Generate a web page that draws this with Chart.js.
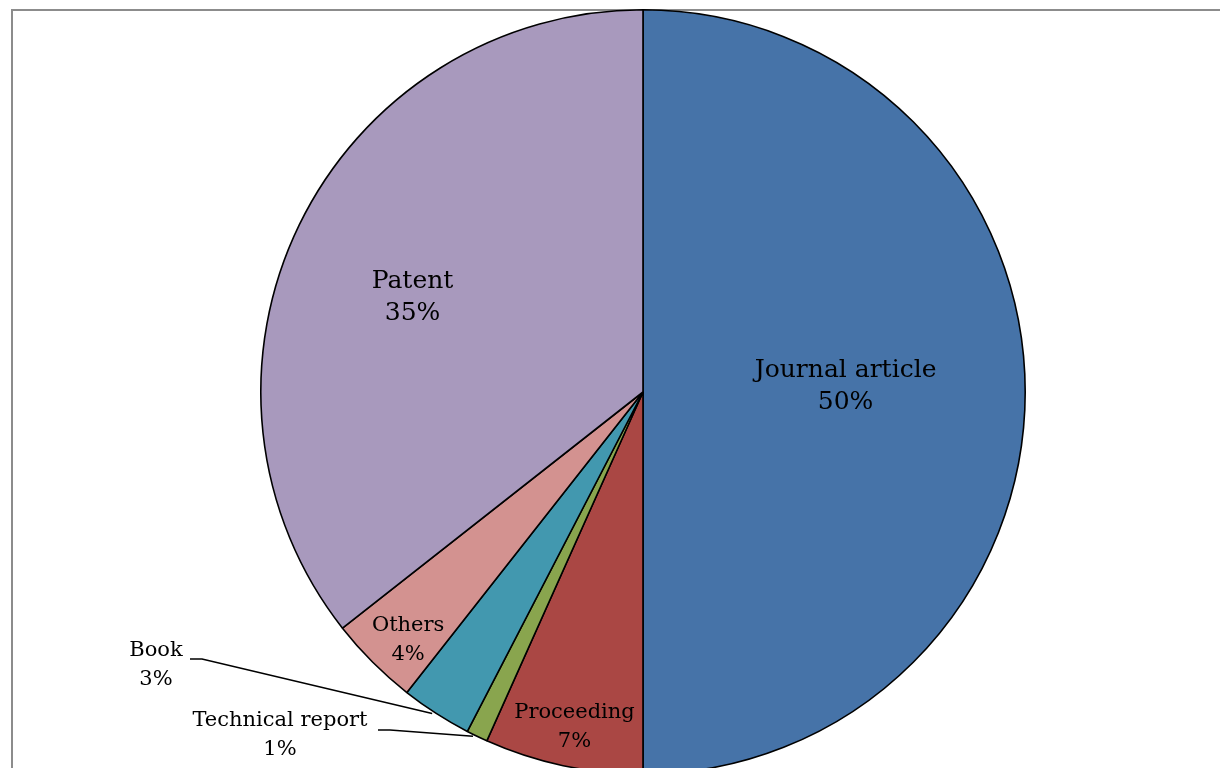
<!DOCTYPE html>
<html>
<head>
<meta charset="utf-8">
<script src="https://cdn.jsdelivr.net/npm/chart.js@4"></script>
<style>
  html, body { margin: 0; padding: 0; background: #fff; overflow: hidden; }
  #wrap { position: relative; width: 1220px; height: 768px; }
  #frame { position: absolute; left: 11px; top: 9px; width: 1300px; height: 900px;
           border-top: 2px solid #8c8c8c; border-left: 2px solid #8c8c8c; }
  #pie { position: absolute; left: 0; top: 0; }
</style>
</head>
<body>
<div id="wrap">
  <div id="frame"></div>
  <canvas id="pie" width="1220" height="784"></canvas>
</div>
<script>
// Publikasjonstyper, i rekkefølge med klokka fra toppen
const categories = ["Journal article", "Proceeding", "Technical report", "Book", "Others", "Patent"];
const shares = [50, 6.7, 0.9, 3.0, 3.8, 35.6];
const pctLabels = ["50%", "7%", "1%", "3%", "4%", "35%"];
const colors = ["#4673a8", "#aa4744", "#89a54e", "#4298af", "#d39290", "#a899bd"];

// Innvendige etiketter: andel av radius + liten justering. Utvendige: tekst + ledelinje (fra sentrum).
const inside = {
  0: { f: 0.53, ox: 0, oy: -6 },
  1: { f: 0.895, ox: 3, oy: 1 },
  4: { f: 0.895, ox: 7, oy: 6 },
  5: { f: 0.65, ox: -7, oy: 14 },
};
const outside = {
  2: { tx: -363, ty: 343, lx: -265, ly: 338, kx: -253 },
  3: { tx: -487, ty: 273, lx: -453, ly: 267, kx: -441 },
};
const big = { 0: true, 5: true };

const fontFor = (i) => `${big[i] ? 25 : 21}px "DejaVu Serif", "Liberation Serif", serif`;
const lineFor = (i) => (big[i] ? 32 : 29);

const labelPlugin = {
  id: "sliceLabels",
  afterDatasetsDraw(chart) {
    const ctx = chart.ctx;
    const arcs = chart.getDatasetMeta(0).data;
    ctx.save();
    ctx.fillStyle = "#000";
    ctx.textAlign = "center";
    ctx.textBaseline = "middle";
    arcs.forEach((arc, i) => {
      const { x, y, startAngle, endAngle, outerRadius } = arc.getProps(["x", "y", "startAngle", "endAngle", "outerRadius"], true);
      const mid = (startAngle + endAngle) / 2;
      let cx, cy;
      if (inside[i]) {
        const p = inside[i];
        cx = x + Math.cos(mid) * outerRadius * p.f + p.ox;
        cy = y + Math.sin(mid) * outerRadius * p.f + p.oy;
      } else {
        const o = outside[i];
        cx = x + o.tx; cy = y + o.ty;
        const ex = x + Math.cos(mid) * outerRadius;
        const ey = y + Math.sin(mid) * outerRadius;
        ctx.beginPath();
        ctx.lineWidth = 1.6;
        ctx.strokeStyle = "#000";
        ctx.moveTo(x + o.lx, y + o.ly);
        ctx.lineTo(x + o.kx, y + o.ly);
        ctx.lineTo(ex - 4, ey);
        ctx.stroke();
      }
      ctx.font = fontFor(i);
      const lh = lineFor(i);
      ctx.fillText(categories[i], cx, cy - lh / 2);
      ctx.fillText(pctLabels[i], cx, cy + lh / 2);
    });
    ctx.restore();
  },
};

new Chart(document.getElementById("pie"), {
  type: "pie",
  data: {
    labels: categories,
    datasets: [{ data: shares, backgroundColor: colors, borderColor: "#000", borderWidth: 1.6 }],
  },
  options: {
    responsive: false, animation: false,
    layout: { padding: { left: 100, right: 34, top: 9, bottom: 9 } },
    plugins: { legend: { display: false }, tooltip: { enabled: false } },
  },
  plugins: [labelPlugin],
});
</script>
</body>
</html>
